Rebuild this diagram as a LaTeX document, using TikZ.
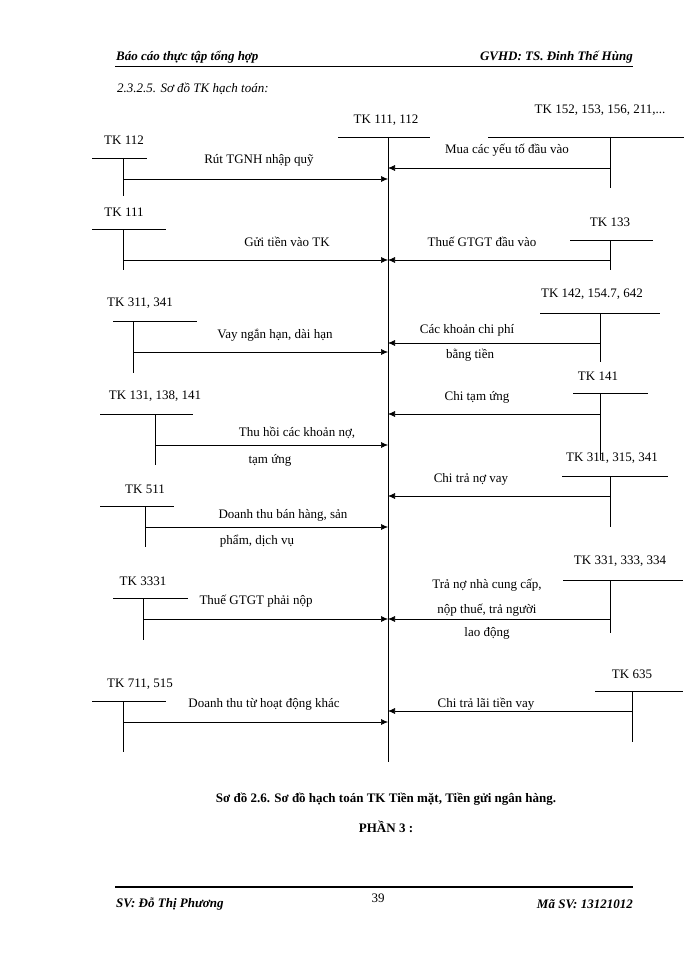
\documentclass[tikz,border=0pt]{standalone}
\usepackage{fontspec}
\setmainfont{Liberation Serif}
\usetikzlibrary{arrows.meta}
\begin{document}
\begin{tikzpicture}[x=1pt,y=-1pt,
  lbl/.style={font=\rmfamily\fontsize{13}{15}\selectfont, inner sep=0pt},
  acct/.style={line width=0.6pt},
  flow/.style={line width=0.6pt,-{Latex[length=7pt,width=6pt]}},
  hdr/.style={font=\rmfamily\fontsize{13}{15}\selectfont\bfseries\itshape, inner sep=0pt}]
\useasboundingbox (0,0) rectangle (700,960);
\fill[white] (0,0) rectangle (700,960);
% header
\node[hdr,anchor=west] (h1) at (116,57) {Báo cáo thực tập tổng hợp};
\node[hdr,anchor=east] (h2) at (633,57) {GVHD: TS. Đinh Thế Hùng};
\draw[line width=1pt] (115,67) -- (633,67);
\node[lbl,anchor=west,font=\rmfamily\fontsize{13}{15}\selectfont\itshape] (sub) at (117,89) {2.3.2.5. Sơ đồ TK hạch toán:};
% central
\node[lbl] (c) at (386,120) {TK 111, 112};
\draw[acct] (338,137) -- (430,137);
\coordinate (ctop) at (388,137); \coordinate (cbot) at (388,762);
\draw[acct] (ctop) -- (cbot);
\foreach \n/\lab/\lx/\ly/\by/\bx/\bxx/\vx/\ve/\ay in {
  L1/TK 112/124/140/158/92/147/123/196/179,
  L2/TK 111/124/212/229/92/166/123/270/260,
  L3/{TK 311, 341}/140/303/321/113/197/133/373/352,
  L4/{TK 131, 138, 141}/155/396/414/100/193/155/465/445,
  L5/TK 511/145/489/506/100/174/145/547/527,
  L6/TK 3331/143/581/598/113/188/143/640/619,
  L7/{TK 711, 515}/140/684/701/92/166/123/752/722}{
  \node[lbl] (\n) at (\lx,\ly) {\lab};
  \draw[acct] (\bx,\by) -- (\bxx,\by);
  \draw[acct] (\vx,\by) -- (\vx,\ve);
  \coordinate (\n s) at (\vx,\ay);
  \draw[flow] (\n s) -- (ctop |- \n s);
}
\foreach \n/\lab/\lx/\ly/\by/\bx/\bxx/\vx/\ve/\ay in {
  R1/{TK 152, 153, 156, 211,...}/600/110/137/488/684/610/188/168,
  R2/TK 133/610/222/240/570/653/610/270/260,
  R3/{TK 142, 154.7, 642}/592/294/313/540/660/600/362/343,
  R4/TK 141/598/376/393/573/648/600/460/414,
  R5/{TK 311, 315, 341}/612/458/476/562/668/610/527/496,
  R6/{TK 331, 333, 334}/620/561/580/563/683/610/633/619,
  R7/TK 635/632/674/691/595/683/632/742/711}{
  \node[lbl] (\n) at (\lx,\ly) {\lab};
  \draw[acct] (\bx,\by) -- (\bxx,\by);
  \draw[acct] (\vx,\by) -- (\vx,\ve);
  \coordinate (\n s) at (\vx,\ay);
  \draw[flow] (\n s) -- (ctop |- \n s);
}
% flow labels
\node[lbl] (t1) at (259,160) {Rút TGNH nhập quỹ};
\node[lbl] (t2) at (287,242) {Gửi tiền vào TK};
\node[lbl] (t3) at (275,335) {Vay ngắn hạn, dài hạn};
\node[lbl] (t4) at (297,433) {Thu hồi các khoản nợ,};
\node[lbl] (t4b) at (270,460) {tạm ứng};
\node[lbl] (t5) at (283,515) {Doanh thu bán hàng, sản};
\node[lbl] (t5b) at (257,541) {phẩm, dịch vụ};
\node[lbl] (t6) at (256,601) {Thuế GTGT phải nộp};
\node[lbl] (t7) at (264,704) {Doanh thu từ hoạt động khác};
\node[lbl] (u1) at (507,150) {Mua các yếu tố đầu vào};
\node[lbl] (u2) at (482,242) {Thuế GTGT đầu vào};
\node[lbl] (u3) at (467,330) {Các khoản chi phí};
\node[lbl] (u3b) at (470,355) {bằng tiền};
\node[lbl] (u4) at (477,397) {Chi tạm ứng};
\node[lbl] (u5) at (471,479) {Chi trả nợ vay};
\node[lbl] (u6) at (487,585) {Trả nợ nhà cung cấp,};
\node[lbl] (u6b) at (487,610) {nộp thuế, trả người};
\node[lbl] (u6c) at (487,633) {lao động};
\node[lbl] (u7) at (486,704) {Chi trả lãi tiền vay};
% caption
\node[lbl,font=\rmfamily\fontsize{13}{15}\selectfont\bfseries] (cap) at (386,799) {Sơ đồ 2.6. Sơ đồ hạch toán TK Tiền mặt, Tiền gửi ngân hàng.};
\node[lbl,font=\rmfamily\fontsize{13}{15}\selectfont\bfseries] (p3) at (386,827) {PHẦN 3 :};
% footer
\draw[line width=1.5pt] (115,887) -- (633,887);
\node[hdr,anchor=west] (f1) at (116,904) {SV: Đỗ Thị Phương};
\node[lbl] (f2) at (378,898) {39};
\node[hdr,anchor=east] (f3) at (633,904) {Mã SV: 13121012};
\end{tikzpicture}
\end{document}
